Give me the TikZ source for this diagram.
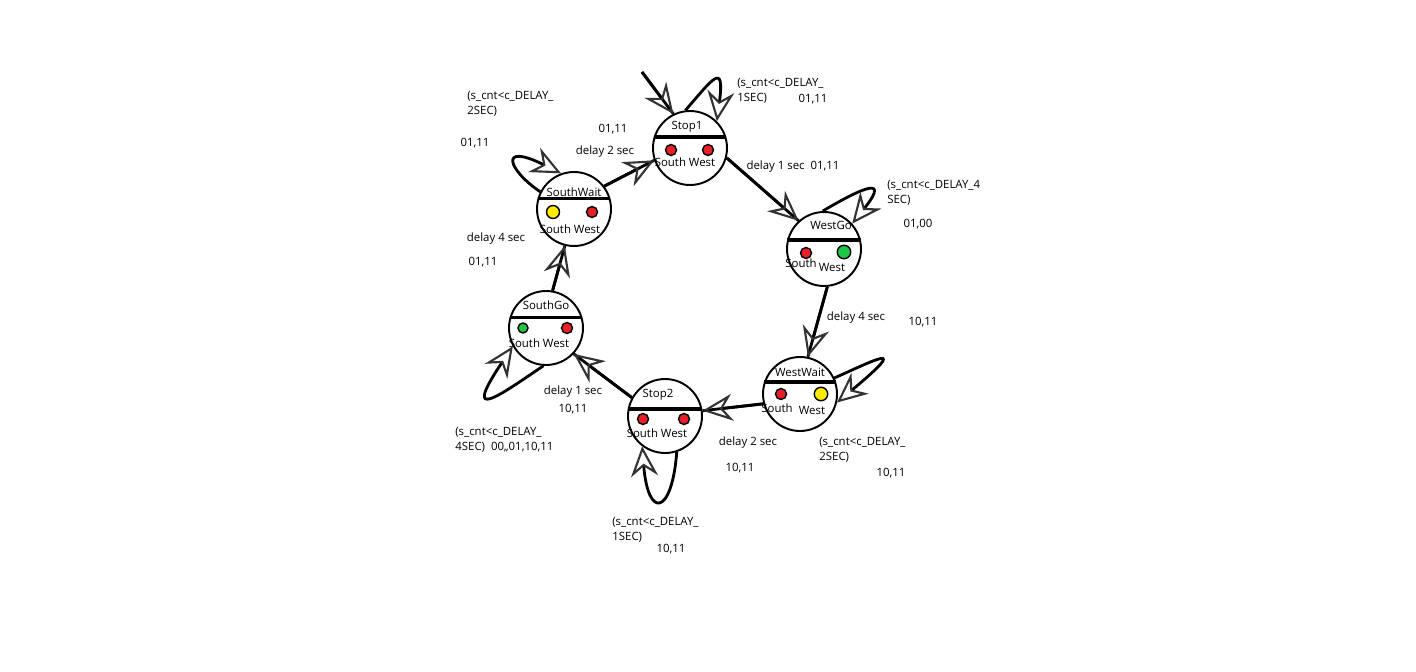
\documentclass[tikz,border=0pt]{standalone}
\usepackage{fontspec}
\setmainfont{Open Sans}
\usetikzlibrary{arrows.meta}
\definecolor{lampred}{RGB}{232,30,40}
\definecolor{lampyellow}{RGB}{255,235,0}
\definecolor{lampgreen}{RGB}{30,200,70}
\tikzset{
  state/.style={circle,draw,line width=1.1pt,minimum size=1.48cm,inner sep=0pt},
  bar/.style={line width=2.2pt},
  lamp/.style={circle,draw,line width=0.8pt,fill=#1,inner sep=0pt,minimum size=0.22cm},
  lamp/.default=lampred,
  tip/.tip={Stealth[open,length=0.6cm,width=0.54cm,inset=0.2cm,line width=1.2pt,color=black!80]},
  trans/.style={line width=1.6pt,postaction={draw,-tip}},
  selfloop/.style={line width=1.6pt,-tip},
  txt/.style={font=\fontsize{6.5}{8.5}\selectfont,inner sep=0pt},
  cond/.style={txt,align=left,anchor=north west}
}

\begin{document}
\begin{tikzpicture}[x=0.02cm,y=-0.02cm]
  \useasboundingbox (0,0) rectangle (1416,672);
  \coordinate (S1) at (690,148);   % Stop1
  \coordinate (WG) at (824,249);   % WestGo
  \coordinate (WW) at (800,394);   % WestWait
  \coordinate (S2) at (665,416);   % Stop2
  \coordinate (SG) at (546,328);   % SouthGo
  \coordinate (SW) at (574,209);   % SouthWait
  \coordinate (init) at (642,72);  % entry point

  % STATES
  \node[state] (stop1) at (S1) {};
  \draw[bar] (stop1.163) -- (stop1.17);
  \node[txt] (stop1-name) at (687,127) {Stop1};
  \node[lamp] (stop1-s) at (671,150) {};
  \node[lamp] (stop1-w) at (708,150) {};
  \node[txt] (stop1-lbl) at (685,162) {South West};

  \node[state] (westgo) at (WG) {};
  \draw[bar] (westgo.166) -- (westgo.14);
  \node[txt] (westgo-name) at (831,225) {WestGo};
  \node[lamp] (westgo-s) at (806,253) {};
  \node[lamp=lampgreen,minimum size=0.27cm] (westgo-w) at (844,252) {};
  \node[txt] (westgo-ls) at (801,263) {South};
  \node[txt] (westgo-lw) at (832,267) {West};

  \node[state] (westwait) at (WW) {};
  \draw[bar] (westwait.161) -- (westwait.19);
  \node[txt] (westwait-name) at (800,372) {WestWait};
  \node[lamp] (westwait-s) at (781,394) {};
  \node[lamp=lampyellow,minimum size=0.27cm] (westwait-w) at (821,394) {};
  \node[txt] (westwait-ls) at (777,408) {South};
  \node[txt] (westwait-lw) at (812,410) {West};

  \node[state] (stop2) at (S2) {};
  \draw[bar] (stop2.169) -- (stop2.11);
  \node[txt] (stop2-name) at (658,395) {Stop2};
  \node[lamp] (stop2-s) at (643,419) {};
  \node[lamp] (stop2-w) at (684,419) {};
  \node[txt] (stop2-lbl) at (657,433) {South West};

  \node[state] (southgo) at (SG) {};
  \draw[bar] (southgo.164) -- (southgo.16);
  \node[txt] (southgo-name) at (546,305) {SouthGo};
  \node[lamp=lampgreen,minimum size=0.2cm] (southgo-s) at (523,328) {};
  \node[lamp] (southgo-w) at (567,328) {};
  \node[txt] (southgo-lbl) at (539,343) {South West};

  \node[state] (southwait) at (SW) {};
  \draw[bar] (southwait.164) -- (southwait.16);
  \node[txt] (southwait-name) at (574,192) {SouthWait};
  \node[lamp=lampyellow,minimum size=0.26cm] (southwait-s) at (553,212) {};
  \node[lamp] (southwait-w) at (592,212) {};
  \node[txt] (southwait-lbl) at (570,229) {South West};

  % TRANSITIONS
  \draw[trans] (init) -- (stop1.116);
  \draw[trans] (stop1.-15) -- (westgo.132);
  \draw[trans] (westgo.-85) -- (westwait.78);
  \draw[trans] (westwait.195) -- (stop2.8);
  \draw[trans] (stop2.151) -- (southgo.-43);
  \draw[trans] (southgo.80) -- (southwait.-104);
  \draw[trans] (southwait.37) -- (stop1.199);

  % SELF LOOPS
  \draw[selfloop] (stop1.97) .. controls (712,80) and (725,60) .. (stop1.45);
  \draw[selfloop] (westgo.92) .. controls (850,195) and (895,170) .. (westgo.42);
  \draw[selfloop] (westwait.25) .. controls (875,360) and (912,340) .. (westwait.-13);
  \draw[selfloop] (stop2.-72) .. controls (672,515) and (648,520) .. (stop2.-127);
  \draw[selfloop] (southgo.-94) .. controls (500,395) and (460,425) .. (southgo.-151);
  \draw[selfloop] (southwait.153) .. controls (508,170) and (498,142) .. (southwait.110);

  % LABELS
  \node[cond] (c-stop1) at (737,78) {(s\_cnt<c\_DELAY\_\\1SEC)};
  \node[txt] (v-stop1) at (813,99) {01,11};
  \node[txt] (e-stop1) at (793,167) {delay 1 sec\ \ 01,11};
  \node[cond] (c-westgo) at (887,180) {(s\_cnt<c\_DELAY\_4\\SEC)};
  \node[txt] (v-westgo) at (918,224) {01,00};
  \node[txt] (e-westgo) at (856,318) {delay 4 sec};
  \node[txt] (o-westgo) at (923,322) {10,11};
  \node[cond] (c-westwait) at (819,437) {(s\_cnt<c\_DELAY\_\\2SEC)};
  \node[txt] (v-westwait) at (891,473) {10,11};
  \node[txt] (e-westwait) at (748,443) {delay 2 sec};
  \node[txt] (o-westwait) at (740,468) {10,11};
  \node[cond] (c-stop2) at (612,517) {(s\_cnt<c\_DELAY\_\\1SEC)};
  \node[txt] (v-stop2) at (671,549) {10,11};
  \node[txt] (e-stop2) at (573,392) {delay 1 sec};
  \node[txt] (o-stop2) at (573,409) {10,11};
  \node[cond] (c-southgo) at (455,427) {(s\_cnt<c\_DELAY\_\\4SEC)\ \ 00,,01,10,11};
  \node[txt] (e-southgo) at (496,239) {delay 4 sec};
  \node[txt] (o-southgo) at (483,262) {01,11};
  \node[cond] (c-southwait) at (467,91) {(s\_cnt<c\_DELAY\_\\2SEC)};
  \node[txt] (v-southwait) at (475,143) {01,11};
  \node[txt] (e-southwait) at (605,152) {delay 2 sec};
  \node[txt] (o-southwait) at (613,129) {01,11};
\end{tikzpicture}
\end{document}
